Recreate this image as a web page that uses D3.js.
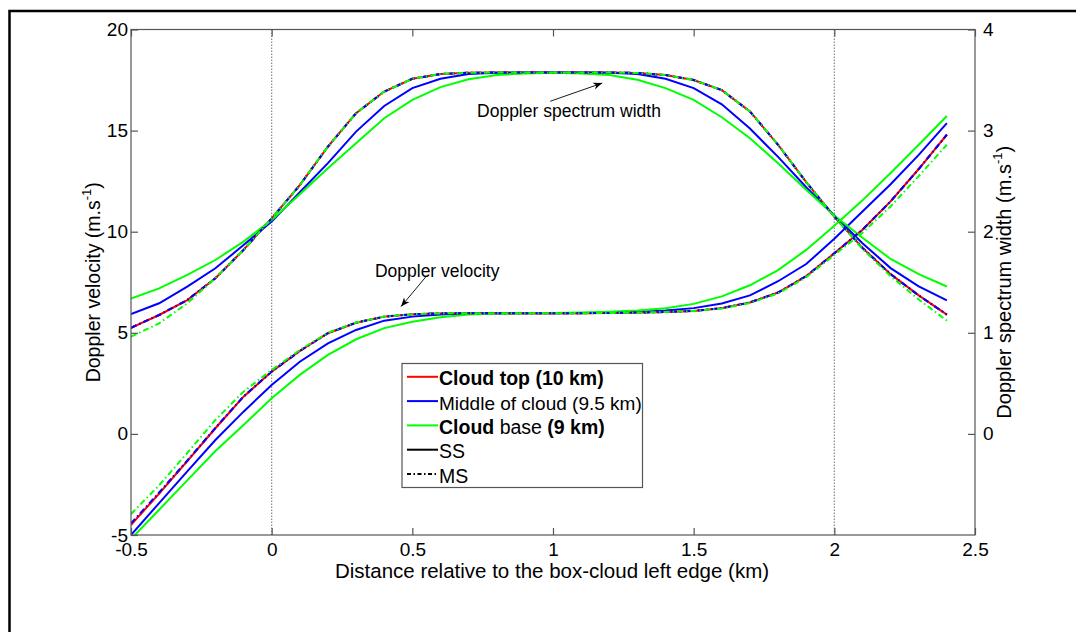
<!DOCTYPE html>
<html>
<head>
<meta charset="utf-8">
<script src="https://cdn.jsdelivr.net/npm/d3@7"></script>
<style>
html, body { margin: 0; padding: 0; background: #fff; overflow: hidden; }
svg { display: block; font-family: "Liberation Sans", Arial, sans-serif; }
</style>
</head>
<body>
<div id="chart"></div>
<script>
// distance from box-cloud left edge (km)
const distanceKm = [-0.5, -0.4, -0.3, -0.2, -0.1, 0, 0.1, 0.2, 0.3, 0.4,
    0.5, 0.6, 0.7, 0.8, 0.9, 1.0, 1.1, 1.2, 1.3, 1.4,
    1.5, 1.6, 1.7, 1.8, 1.9, 2.0, 2.1, 2.2, 2.3, 2.4];

// Doppler velocity (left axis, m/s)
const velTopSS = [-4.5, -2.95, -1.35, 0.28, 1.84, 3.08, 4.1, 4.98, 5.5, 5.8,
    5.92, 5.96, 5.97, 5.97, 5.97, 5.97, 5.97, 5.98, 6.0, 6.03,
    6.08, 6.22, 6.5, 6.99, 7.8, 8.93, 10.1, 11.5, 13.1, 14.8];
const velMidSS = [-5.0, -3.42, -1.85, -0.3, 1.1, 2.42, 3.57, 4.48, 5.14, 5.6,
    5.8, 5.9, 5.95, 5.97, 5.97, 5.97, 5.98, 5.99, 6.03, 6.1,
    6.22, 6.45, 6.85, 7.55, 8.4, 9.65, 11.0, 12.35, 13.8, 15.37];
const velBaseSS = [-5.2, -3.75, -2.3, -0.85, 0.44, 1.76, 2.92, 3.91, 4.68, 5.23,
    5.55, 5.77, 5.9, 5.95, 5.97, 5.98, 6.0, 6.04, 6.1, 6.22,
    6.43, 6.8, 7.35, 8.1, 9.1, 10.3, 11.55, 12.9, 14.3, 15.72];
const velTopMS = [-4.48, -2.94, -1.34, 0.28, 1.84, 3.08, 4.1, 4.98, 5.5, 5.8,
    5.92, 5.96, 5.97, 5.97, 5.97, 5.97, 5.97, 5.98, 6.0, 6.03,
    6.08, 6.22, 6.5, 6.99, 7.8, 8.93, 10.1, 11.5, 13.1, 14.8];
const velMidMS = [-4.42, -2.9, -1.32, 0.3, 1.85, 3.08, 4.1, 4.98, 5.5, 5.8,
    5.92, 5.96, 5.97, 5.97, 5.97, 5.97, 5.97, 5.98, 6.0, 6.03,
    6.08, 6.22, 6.5, 6.99, 7.8, 8.93, 10.1, 11.5, 13.1, 14.8];
const velBaseMS = [-3.96, -2.54, -0.94, 0.69, 2.09, 3.16, 4.15, 5.0, 5.51, 5.8,
    5.92, 5.96, 5.97, 5.97, 5.97, 5.97, 5.97, 5.98, 6.0, 6.03,
    6.08, 6.2, 6.47, 6.95, 7.75, 8.85, 9.95, 11.25, 12.75, 14.3];

// Doppler spectrum width (right axis, m/s)
const widTopSS = [1.05, 1.176, 1.324, 1.54, 1.82, 2.132, 2.46, 2.842, 3.172, 3.386,
    3.512, 3.56, 3.572, 3.574, 3.574, 3.574, 3.574, 3.574, 3.57, 3.55,
    3.5, 3.4, 3.19, 2.86, 2.49, 2.15, 1.84, 1.58, 1.37, 1.18];
const widMidSS = [1.186, 1.292, 1.456, 1.638, 1.868, 2.1, 2.39, 2.678, 2.99, 3.244,
    3.42, 3.512, 3.56, 3.572, 3.574, 3.574, 3.574, 3.572, 3.56, 3.512,
    3.42, 3.26, 3.02, 2.74, 2.44, 2.16, 1.886, 1.64, 1.46, 1.32];
const widBaseSS = [1.338, 1.44, 1.572, 1.72, 1.902, 2.116, 2.37, 2.628, 2.876, 3.122,
    3.304, 3.43, 3.508, 3.55, 3.566, 3.572, 3.566, 3.55, 3.502, 3.42,
    3.304, 3.132, 2.924, 2.678, 2.414, 2.16, 1.94, 1.73, 1.58, 1.458];
const widTopMS = [1.05, 1.176, 1.324, 1.54, 1.82, 2.132, 2.46, 2.842, 3.172, 3.386,
    3.512, 3.56, 3.572, 3.574, 3.574, 3.574, 3.574, 3.574, 3.57, 3.55,
    3.5, 3.4, 3.19, 2.86, 2.49, 2.15, 1.84, 1.58, 1.37, 1.18];
const widMidMS = [1.05, 1.176, 1.324, 1.54, 1.82, 2.132, 2.46, 2.842, 3.172, 3.386,
    3.512, 3.56, 3.572, 3.574, 3.574, 3.574, 3.574, 3.574, 3.57, 3.55,
    3.5, 3.4, 3.19, 2.86, 2.49, 2.15, 1.84, 1.58, 1.37, 1.18];
const widBaseMS = [0.962, 1.094, 1.292, 1.54, 1.82, 2.132, 2.46, 2.842, 3.172, 3.386,
    3.512, 3.56, 3.572, 3.574, 3.574, 3.574, 3.574, 3.574, 3.57, 3.55,
    3.5, 3.4, 3.19, 2.86, 2.49, 2.15, 1.83, 1.56, 1.33, 1.12];

const xTicks = [-0.5, 0, 0.5, 1, 1.5, 2, 2.5];
const leftTicks = [-5, 0, 5, 10, 15, 20];
const rightTicks = [0, 1, 2, 3, 4];
const edgeLines = [0, 2];   // box-cloud edges

const legendLabels = ["Cloud top (10 km)", "Middle of cloud (9.5 km)", "Cloud base (9 km)", "SS", "MS"];
const legendColors = ["#ff0000", "#0000ff", "#00ff00", "#000", "#000"];

const W = 1076, H = 632;
const margin = { top: 29.5, right: 101, bottom: 97, left: 131 };
const msDash = "6,3,1.5,3";

const svg = d3.select("#chart").append("svg")
    .attr("width", W)
    .attr("height", H);

svg.append("rect").attr("width", W).attr("height", H).attr("fill", "#fff");

// outer figure frame, only top and left edges are inside the picture
svg.append("path")
    .attr("d", "M9.5," + H + "V11H" + W)
    .attr("fill", "none")
    .attr("stroke", "#000")
    .attr("stroke-width", 2.5);

const x = d3.scaleLinear().domain([-0.5, 2.5]).range([margin.left, W - margin.right]);
const yL = d3.scaleLinear().domain([-5, 20]).range([H - margin.bottom, margin.top]);
const yR = d3.scaleLinear().domain([-1, 4]).range([H - margin.bottom, margin.top]);

const defs = svg.append("defs");
defs.append("clipPath").attr("id", "plotclip")
    .append("rect")
    .attr("x", x(-0.5)).attr("y", yL(20))
    .attr("width", x(2.5) - x(-0.5)).attr("height", yL(-5) - yL(20));

// dotted cloud edges
svg.selectAll(".edge")
    .data(edgeLines)
    .enter()
    .append("line")
    .attr("class", "edge")
    .attr("x1", d => x(d)).attr("x2", d => x(d))
    .attr("y1", yL(20)).attr("y2", yL(-5))
    .attr("stroke", "#888")
    .attr("stroke-width", 1.2)
    .attr("stroke-dasharray", "1.5,1.5");

// series
const series = [
    { vel: velTopSS, wid: widTopSS, color: "#ff0000", dash: null },
    { vel: velMidSS, wid: widMidSS, color: "#0000ff", dash: null },
    { vel: velBaseSS, wid: widBaseSS, color: "#00ff00", dash: null },
    { vel: velTopMS, wid: widTopMS, color: "#ff0000", dash: msDash },
    { vel: velMidMS, wid: widMidMS, color: "#0000ff", dash: msDash },
    { vel: velBaseMS, wid: widBaseMS, color: "#00ff00", dash: msDash }
];

const lineL = d3.line().x((d, i) => x(distanceKm[i])).y(d => yL(d));
const lineR = d3.line().x((d, i) => x(distanceKm[i])).y(d => yR(d));

const plot = svg.append("g").attr("clip-path", "url(#plotclip)");

series.forEach(s => {
    plot.append("path")
        .datum(s.wid)
        .attr("d", lineR)
        .attr("fill", "none")
        .attr("stroke", s.color)
        .attr("stroke-width", 2)
        .attr("stroke-dasharray", s.dash);
    plot.append("path")
        .datum(s.vel)
        .attr("d", lineL)
        .attr("fill", "none")
        .attr("stroke", s.color)
        .attr("stroke-width", 2)
        .attr("stroke-dasharray", s.dash);
});

// axes box
const axisColor = "#555";
svg.append("rect")
    .attr("x", x(-0.5)).attr("y", yL(20))
    .attr("width", x(2.5) - x(-0.5)).attr("height", yL(-5) - yL(20))
    .attr("fill", "none")
    .attr("stroke", axisColor)
    .attr("stroke-width", 1.2);

function styleAxis(g) {
    g.attr("font-size", null).attr("font-family", null);
    g.select(".domain").remove();
    g.selectAll(".tick line").attr("stroke", axisColor).attr("stroke-width", 1.2);
    g.selectAll(".tick text").attr("fill", "#000").style("font-size", "19px");
}

const fmt = d => String(d);

svg.append("g")
    .attr("transform", "translate(0," + yL(-5) + ")")
    .call(d3.axisBottom(x).tickValues(xTicks).tickFormat(fmt).tickSizeInner(-7).tickSizeOuter(0).tickPadding(8))
    .call(styleAxis);

svg.append("g")
    .attr("transform", "translate(0," + yL(20) + ")")
    .call(d3.axisTop(x).tickValues(xTicks).tickFormat("").tickSizeInner(-7).tickSizeOuter(0))
    .call(styleAxis);

svg.append("g")
    .attr("transform", "translate(" + x(-0.5) + ",0)")
    .call(d3.axisLeft(yL).tickValues(leftTicks).tickFormat(fmt).tickSizeInner(-7).tickSizeOuter(0).tickPadding(3))
    .call(styleAxis);

svg.append("g")
    .attr("transform", "translate(" + x(2.5) + ",0)")
    .call(d3.axisRight(yR).tickValues(rightTicks).tickFormat(fmt).tickSizeInner(-7).tickSizeOuter(0).tickPadding(8))
    .call(styleAxis);

// axis titles
svg.append("text")
    .attr("x", (x(-0.5) + x(2.5)) / 2 - 1)
    .attr("y", 577.5)
    .attr("text-anchor", "middle")
    .style("font-size", "20.5px")
    .text("Distance relative to the box-cloud left edge (km)");

function unitLabel(t) {
    t.append("tspan").text(t.attr("data-main") + " (m.s");
    t.append("tspan").attr("dy", -9).style("font-size", "13px").text("-1");
    t.append("tspan").attr("dy", 9).text(")");
}

svg.append("text")
    .attr("transform", "translate(100," + (yL(-5) + yL(20)) / 2 + ") rotate(-90)")
    .attr("text-anchor", "middle")
    .attr("data-main", "Doppler velocity")
    .style("font-size", "19.5px")
    .call(unitLabel);

svg.append("text")
    .attr("transform", "translate(1011," + (yL(-5) + yL(20)) / 2 + ") rotate(-90)")
    .attr("text-anchor", "middle")
    .attr("data-main", "Doppler spectrum width")
    .style("font-size", "20px")
    .call(unitLabel);

// annotations
defs.append("marker")
    .attr("id", "arrow")
    .attr("viewBox", "0 0 10 10")
    .attr("refX", 10).attr("refY", 5)
    .attr("markerWidth", 9).attr("markerHeight", 9)
    .attr("markerUnits", "userSpaceOnUse")
    .attr("orient", "auto")
    .append("path")
    .attr("d", "M0,1 L10,5 L0,9 L3,5 Z")
    .attr("fill", "#000");

const notes = [
    { text: "Doppler spectrum width", tx: 0.73, tv: 15.67, x1: 0.99, v1: 16.45, x2: 1.175, v2: 17.35 },
    { text: "Doppler velocity", tx: 0.367, tv: 7.76, x1: 0.55, v1: 7.8, x2: 0.46, v2: 6.3 }
];

notes.forEach(n => {
    svg.append("text")
        .attr("x", x(n.tx)).attr("y", yL(n.tv))
        .style("font-size", "17.5px")
        .text(n.text);
    svg.append("line")
        .attr("x1", x(n.x1)).attr("y1", yL(n.v1))
        .attr("x2", x(n.x2)).attr("y2", yL(n.v2))
        .attr("stroke", "#000")
        .attr("stroke-width", 0.9)
        .attr("marker-end", "url(#arrow)");
});

// legend
const legend = svg.append("g").attr("transform", "translate(402,363.5)");
legend.append("rect")
    .attr("width", 240.5).attr("height", 124)
    .attr("fill", "#fff")
    .attr("stroke", axisColor)
    .attr("stroke-width", 1.2);

const rows = legend.selectAll(".row")
    .data(legendLabels)
    .enter()
    .append("g")
    .attr("transform", (d, i) => "translate(0," + (13.3 + i * 24.3) + ")");

rows.append("line")
    .attr("x1", 5).attr("x2", 36)
    .attr("stroke", (d, i) => legendColors[i])
    .attr("stroke-width", 2)
    .attr("stroke-dasharray", (d, i) => i === 4 ? "4,2.5,1.5,2.5" : null);

const rowText = rows.append("text")
    .attr("x", 37)
    .attr("y", 8.5)
    .style("font-size", (d, i) => i === 1 ? "19px" : "19.5px");

rowText.each(function(d, i) {
    const t = d3.select(this);
    if (i === 0) {
        t.style("font-weight", "bold").text(d);
    } else if (i === 2) {
        const parts = d.split(" ");   // Cloud | base | (9 | km)
        t.append("tspan").style("font-weight", "bold").text(parts[0]);
        t.append("tspan").text(" " + parts[1] + " ");
        t.append("tspan").style("font-weight", "bold").text(parts.slice(2).join(" "));
    } else {
        t.text(d);
    }
});
</script>
</body>
</html>
